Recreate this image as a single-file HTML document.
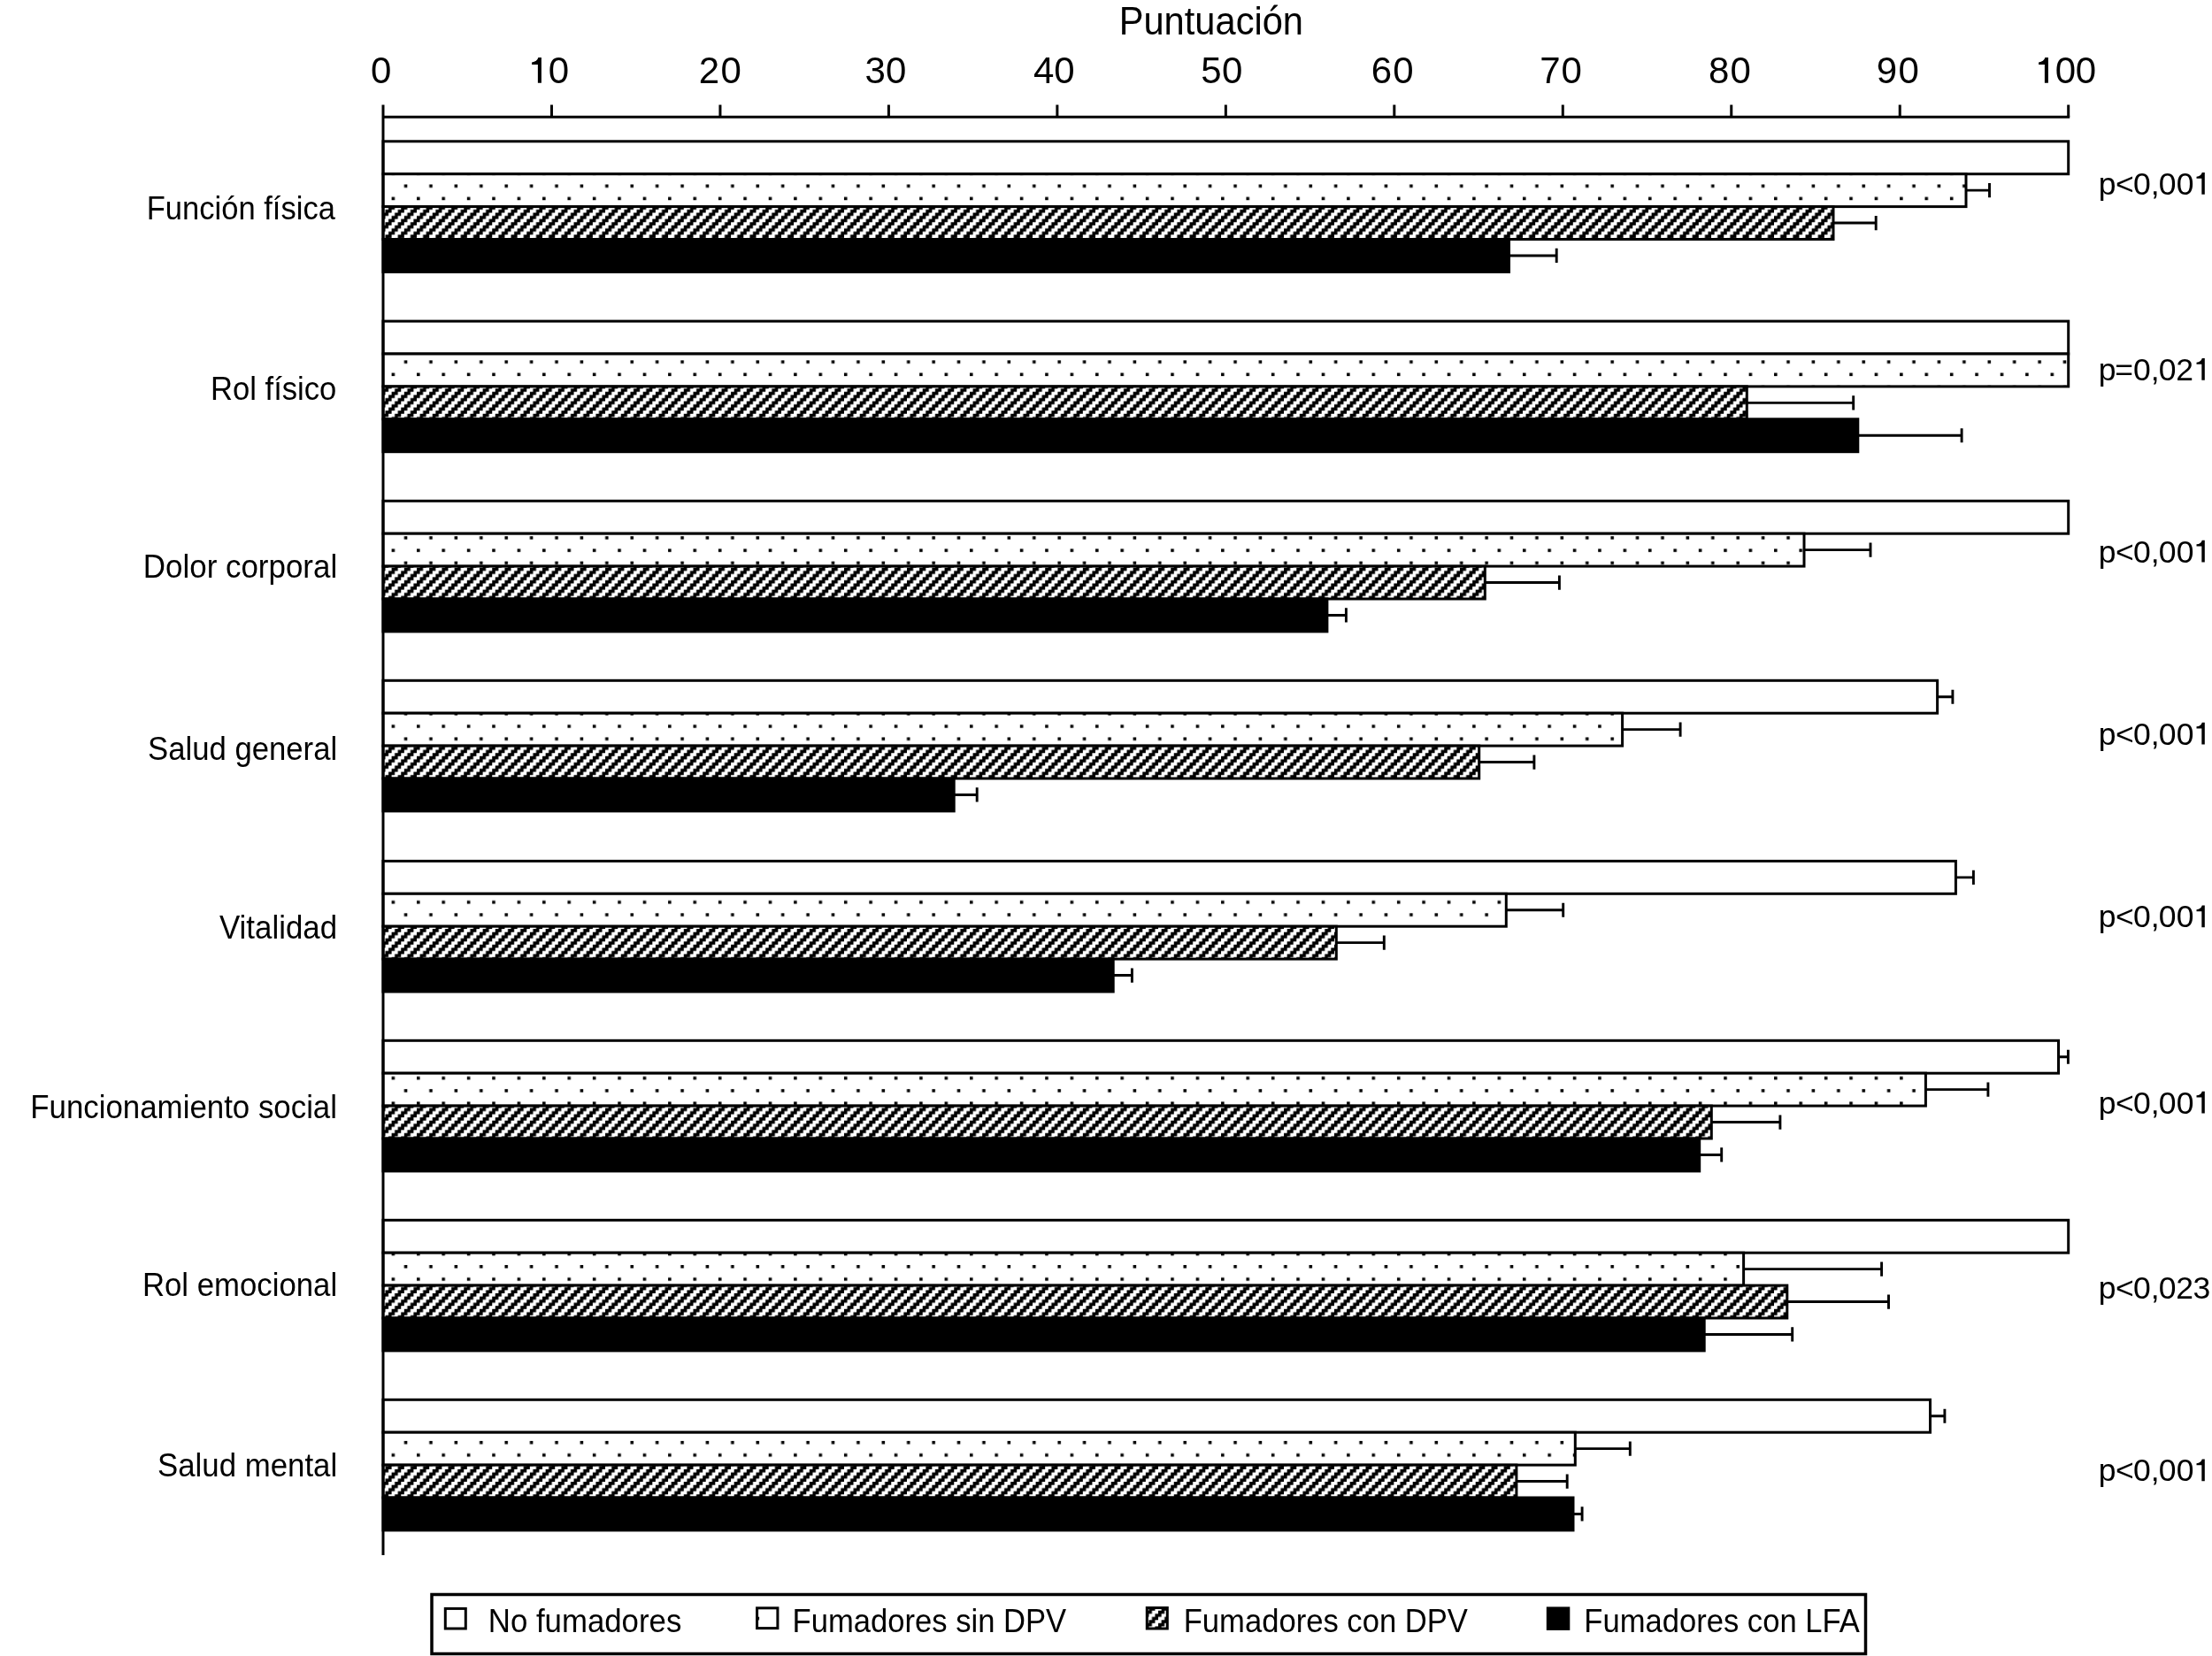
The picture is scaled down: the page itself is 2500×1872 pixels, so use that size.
<!DOCTYPE html>
<html><head><meta charset="utf-8"><style>
html,body{margin:0;padding:0;background:#fff;}
body{width:2500px;height:1872px;overflow:hidden;font-family:"Liberation Sans",sans-serif;}
svg{display:block;filter:grayscale(100%);}
</style></head><body>
<svg width="2500" height="1872" viewBox="0 0 2500 1872" shape-rendering="auto">
<rect width="2500" height="1872" fill="#fff"/>
<defs>
<pattern id="dots" patternUnits="userSpaceOnUse" x="442.6" y="208.5" width="28.408" height="28.408">
<rect width="28.408" height="28.408" fill="#fff"/>
<rect x="14.204" y="0" width="3.551" height="3.551" fill="#000"/>
<rect x="0" y="14.204" width="3.551" height="3.551" fill="#000"/>
</pattern>
<pattern id="hatch" patternUnits="userSpaceOnUse" x="442.6" y="268.9" width="14.204" height="14.204">
<rect width="14.204" height="14.204" fill="#fff"/>
<g fill="#000"><path d="M3.551 0H10.653V3.551H7.102V7.102H3.551V10.653H0V3.551H3.551ZM10.653 7.102H14.204V14.204H7.102V10.653H10.653Z"/></g>
</pattern>
</defs>
<g stroke="#000" stroke-width="3"><rect x="433.0" y="159.80" width="1904.70" height="36.90" fill="#fff"/><rect x="433.0" y="196.70" width="1789.00" height="36.90" fill="url(#dots)"/><rect x="433.0" y="233.60" width="1639.00" height="36.90" fill="url(#hatch)"/><rect x="433.0" y="270.50" width="1272.50" height="36.90" fill="#000"/><rect x="433.0" y="363.10" width="1904.70" height="36.90" fill="#fff"/><rect x="433.0" y="400.00" width="1904.70" height="36.90" fill="url(#dots)"/><rect x="433.0" y="436.90" width="1541.30" height="36.90" fill="url(#hatch)"/><rect x="433.0" y="473.80" width="1666.80" height="36.90" fill="#000"/><rect x="433.0" y="566.30" width="1904.70" height="36.90" fill="#fff"/><rect x="433.0" y="603.20" width="1606.00" height="36.90" fill="url(#dots)"/><rect x="433.0" y="640.10" width="1245.30" height="36.90" fill="url(#hatch)"/><rect x="433.0" y="677.00" width="1066.90" height="36.90" fill="#000"/><rect x="433.0" y="769.30" width="1756.60" height="36.90" fill="#fff"/><rect x="433.0" y="806.20" width="1400.60" height="36.90" fill="url(#dots)"/><rect x="433.0" y="843.10" width="1238.70" height="36.90" fill="url(#hatch)"/><rect x="433.0" y="880.00" width="645.20" height="36.90" fill="#000"/><rect x="433.0" y="973.40" width="1777.40" height="36.90" fill="#fff"/><rect x="433.0" y="1010.30" width="1269.30" height="36.90" fill="url(#dots)"/><rect x="433.0" y="1047.20" width="1077.30" height="36.90" fill="url(#hatch)"/><rect x="433.0" y="1084.10" width="825.20" height="36.90" fill="#000"/><rect x="433.0" y="1176.30" width="1893.50" height="36.90" fill="#fff"/><rect x="433.0" y="1213.20" width="1743.40" height="36.90" fill="url(#dots)"/><rect x="433.0" y="1250.10" width="1501.30" height="36.90" fill="url(#hatch)"/><rect x="433.0" y="1287.00" width="1487.70" height="36.90" fill="#000"/><rect x="433.0" y="1379.30" width="1904.70" height="36.90" fill="#fff"/><rect x="433.0" y="1416.20" width="1537.60" height="36.90" fill="url(#dots)"/><rect x="433.0" y="1453.10" width="1586.80" height="36.90" fill="url(#hatch)"/><rect x="433.0" y="1490.00" width="1493.20" height="36.90" fill="#000"/><rect x="433.0" y="1582.30" width="1748.50" height="36.90" fill="#fff"/><rect x="433.0" y="1619.20" width="1347.30" height="36.90" fill="url(#dots)"/><rect x="433.0" y="1656.10" width="1280.90" height="36.90" fill="url(#hatch)"/><rect x="433.0" y="1693.00" width="1345.00" height="36.90" fill="#000"/></g>
<g stroke="#000" stroke-width="2.9" fill="none"><path d="M2222.00 215.15H2248.50M2248.50 207.05V223.25"/><path d="M2072.00 252.05H2120.20M2120.20 243.95V260.15"/><path d="M1705.50 288.95H1759.20M1759.20 280.85V297.05"/><path d="M1974.30 455.35H2094.70M2094.70 447.25V463.45"/><path d="M2099.80 492.25H2217.10M2217.10 484.15V500.35"/><path d="M2039.00 621.65H2114.00M2114.00 613.55V629.75"/><path d="M1678.30 658.55H1762.40M1762.40 650.45V666.65"/><path d="M1499.90 695.45H1521.40M1521.40 687.35V703.55"/><path d="M2189.60 787.75H2206.90M2206.90 779.65V795.85"/><path d="M1833.60 824.65H1899.10M1899.10 816.55V832.75"/><path d="M1671.70 861.55H1733.90M1733.90 853.45V869.65"/><path d="M1078.20 898.45H1104.20M1104.20 890.35V906.55"/><path d="M2210.40 991.85H2230.40M2230.40 983.75V999.95"/><path d="M1702.30 1028.75H1766.70M1766.70 1020.65V1036.85"/><path d="M1510.30 1065.65H1564.30M1564.30 1057.55V1073.75"/><path d="M1258.20 1102.55H1279.40M1279.40 1094.45V1110.65"/><path d="M2326.50 1194.75H2337.40M2337.40 1186.65V1202.85"/><path d="M2176.40 1231.65H2246.90M2246.90 1223.55V1239.75"/><path d="M1934.30 1268.55H2011.90M2011.90 1260.45V1276.65"/><path d="M1920.70 1305.45H1945.70M1945.70 1297.35V1313.55"/><path d="M1970.60 1434.65H2126.60M2126.60 1426.55V1442.75"/><path d="M2019.80 1471.55H2134.50M2134.50 1463.45V1479.65"/><path d="M1926.20 1508.45H2025.70M2025.70 1500.35V1516.55"/><path d="M2181.50 1600.75H2197.90M2197.90 1592.65V1608.85"/><path d="M1780.30 1637.65H1842.30M1842.30 1629.55V1645.75"/><path d="M1713.90 1674.55H1771.20M1771.20 1666.45V1682.65"/><path d="M1778.00 1711.45H1788.10M1788.10 1703.35V1719.55"/></g>
<g stroke="#000" stroke-width="3" fill="none"><path d="M433.0 118.5V1758"/><path d="M433.0 132.2H2339.2"/><path d="M623.47 118.5V132.2"/><path d="M813.94 118.5V132.2"/><path d="M1004.41 118.5V132.2"/><path d="M1194.88 118.5V132.2"/><path d="M1385.35 118.5V132.2"/><path d="M1575.82 118.5V132.2"/><path d="M1766.29 118.5V132.2"/><path d="M1956.76 118.5V132.2"/><path d="M2147.23 118.5V132.2"/><path d="M2337.70 118.5V132.2"/></g>
<g fill="#000" font-family="Liberation Sans, sans-serif"><text transform="matrix(1.0000 0 0 1.0434 1264.68 38.60)" font-size="41.65">Puntuación</text><g transform="translate(0 94.30) scale(1 1.0000)"><text x="418.96" y="0" font-size="42.0">0</text><text x="789.69" y="0" font-size="42.0">2</text><text x="814.38" y="0" font-size="42.0">0</text><text x="977.50" y="0" font-size="42.0">3</text><text x="1001.08" y="0" font-size="42.0">0</text><text x="1168.04" y="0" font-size="42.0">4</text><text x="1191.28" y="0" font-size="42.0">0</text><text x="1357.22" y="0" font-size="42.0">5</text><text x="1381.08" y="0" font-size="42.0">0</text><text x="1549.77" y="0" font-size="42.0">6</text><text x="1574.18" y="0" font-size="42.0">0</text><text x="1740.25" y="0" font-size="42.0">7</text><text x="1764.38" y="0" font-size="42.0">0</text><text x="1931.07" y="0" font-size="42.0">8</text><text x="1955.48" y="0" font-size="42.0">0</text><text x="2120.83" y="0" font-size="42.0">9</text><text x="2145.38" y="0" font-size="42.0">0</text><text x="619.76" y="0" font-size="42.0">0</text><text x="2322.86" y="0" font-size="42.0">0</text><text x="2345.66" y="0" font-size="42.0">0</text></g><path d="M611.90 65.10V93.80H607.88V72.91H601.11V70.41Q606.91 70.09 608.40 65.10Z"/><path d="M2314.90 65.10V93.80H2310.88V72.91H2304.11V70.41Q2309.91 70.09 2311.40 65.10Z"/><text transform="matrix(1.0000 0 0 1.0686 165.77 248.00)" font-size="34.55">Función física</text><text transform="matrix(1.0000 0 0 1.0577 237.96 452.20)" font-size="34.63">Rol físico</text><text transform="matrix(1.0000 0 0 1.0401 161.84 652.90)" font-size="34.94">Dolor corporal</text><text transform="matrix(1.0000 0 0 1.0510 167.00 858.90)" font-size="34.71">Salud general</text><text transform="matrix(1.0000 0 0 1.0457 247.93 1060.80)" font-size="34.89">Vitalidad</text><text transform="matrix(1.0000 0 0 1.0378 34.24 1263.90)" font-size="34.87">Funcionamiento social</text><text transform="matrix(1.0000 0 0 1.0410 160.95 1465.00)" font-size="34.77">Rol emocional</text><text transform="matrix(1.0000 0 0 1.0478 178.00 1668.90)" font-size="34.82">Salud mental</text><g transform="translate(0 219.95) scale(1 1.0000)"><text x="2371.81" y="0" font-size="35.5">p</text><text x="2391.05" y="0" font-size="35.5">&lt;</text><text x="2410.91" y="0" font-size="35.5">0</text><text x="2430.71" y="0" font-size="35.5">,</text><text x="2439.81" y="0" font-size="35.5">0</text><text x="2459.81" y="0" font-size="35.5">0</text></g><path d="M2491.80 195.10V219.80H2488.34V201.82H2482.51V199.67Q2487.50 199.40 2488.79 195.10Z"/><g transform="translate(0 429.95) scale(1 1.0000)"><text x="2371.81" y="0" font-size="35.5">p</text><text x="2390.27" y="0" font-size="35.5">=</text><text x="2410.91" y="0" font-size="35.5">0</text><text x="2430.71" y="0" font-size="35.5">,</text><text x="2439.81" y="0" font-size="35.5">0</text><text x="2459.31" y="0" font-size="35.5">2</text></g><path d="M2491.80 405.10V429.80H2488.34V411.82H2482.51V409.67Q2487.50 409.40 2488.79 405.10Z"/><g transform="translate(0 635.55) scale(1 1.0000)"><text x="2371.81" y="0" font-size="35.5">p</text><text x="2391.05" y="0" font-size="35.5">&lt;</text><text x="2410.91" y="0" font-size="35.5">0</text><text x="2430.71" y="0" font-size="35.5">,</text><text x="2439.81" y="0" font-size="35.5">0</text><text x="2459.81" y="0" font-size="35.5">0</text></g><path d="M2491.80 610.70V635.40H2488.34V617.42H2482.51V615.27Q2487.50 615.00 2488.79 610.70Z"/><g transform="translate(0 841.65) scale(1 1.0000)"><text x="2371.81" y="0" font-size="35.5">p</text><text x="2391.05" y="0" font-size="35.5">&lt;</text><text x="2410.91" y="0" font-size="35.5">0</text><text x="2430.71" y="0" font-size="35.5">,</text><text x="2439.81" y="0" font-size="35.5">0</text><text x="2459.81" y="0" font-size="35.5">0</text></g><path d="M2491.80 816.80V841.50H2488.34V823.52H2482.51V821.37Q2487.50 821.10 2488.79 816.80Z"/><g transform="translate(0 1048.45) scale(1 1.0000)"><text x="2371.81" y="0" font-size="35.5">p</text><text x="2391.05" y="0" font-size="35.5">&lt;</text><text x="2410.91" y="0" font-size="35.5">0</text><text x="2430.71" y="0" font-size="35.5">,</text><text x="2439.81" y="0" font-size="35.5">0</text><text x="2459.81" y="0" font-size="35.5">0</text></g><path d="M2491.80 1023.60V1048.30H2488.34V1030.32H2482.51V1028.17Q2487.50 1027.90 2488.79 1023.60Z"/><g transform="translate(0 1258.55) scale(1 1.0000)"><text x="2371.81" y="0" font-size="35.5">p</text><text x="2391.05" y="0" font-size="35.5">&lt;</text><text x="2410.91" y="0" font-size="35.5">0</text><text x="2430.71" y="0" font-size="35.5">,</text><text x="2439.81" y="0" font-size="35.5">0</text><text x="2459.81" y="0" font-size="35.5">0</text></g><path d="M2491.80 1233.70V1258.40H2488.34V1240.42H2482.51V1238.27Q2487.50 1238.00 2488.79 1233.70Z"/><g transform="translate(0 1468.45) scale(1 1.0000)"><text x="2371.81" y="0" font-size="35.5">p</text><text x="2391.05" y="0" font-size="35.5">&lt;</text><text x="2410.91" y="0" font-size="35.5">0</text><text x="2430.71" y="0" font-size="35.5">,</text><text x="2439.81" y="0" font-size="35.5">0</text><text x="2459.31" y="0" font-size="35.5">2</text><text x="2478.55" y="0" font-size="35.5">3</text></g><g transform="translate(0 1674.45) scale(1 1.0000)"><text x="2371.81" y="0" font-size="35.5">p</text><text x="2391.05" y="0" font-size="35.5">&lt;</text><text x="2410.91" y="0" font-size="35.5">0</text><text x="2430.71" y="0" font-size="35.5">,</text><text x="2439.81" y="0" font-size="35.5">0</text><text x="2459.81" y="0" font-size="35.5">0</text></g><path d="M2491.80 1649.60V1674.30H2488.34V1656.32H2482.51V1654.17Q2487.50 1653.90 2488.79 1649.60Z"/><text transform="matrix(1.0000 0 0 1.0524 551.75 1845.10)" font-size="34.80">No fumadores</text><text transform="matrix(1.0000 0 0 1.0583 895.56 1845.10)" font-size="34.61">Fumadores sin DPV</text><text transform="matrix(1.0000 0 0 1.0578 1337.66 1845.10)" font-size="34.63">Fumadores con DPV</text><text transform="matrix(1.0000 0 0 1.0587 1790.36 1845.10)" font-size="34.60">Fumadores con LFA</text></g>
<rect x="488" y="1802.5" width="1620.5" height="67" fill="none" stroke="#000" stroke-width="3.5"/><rect x="503.3" y="1818.4" width="23" height="22.6" fill="#fff" stroke="#000" stroke-width="3"/><rect x="855.6" y="1817.8" width="23.3" height="22.8" fill="url(#dots)" stroke="#000" stroke-width="3"/><rect x="1296.3" y="1817.5" width="23" height="23.5" fill="url(#hatch)" stroke="#000" stroke-width="3"/><rect x="1747.8" y="1816.4" width="26.5" height="26.5" fill="#000"/>
</svg>
</body></html>
